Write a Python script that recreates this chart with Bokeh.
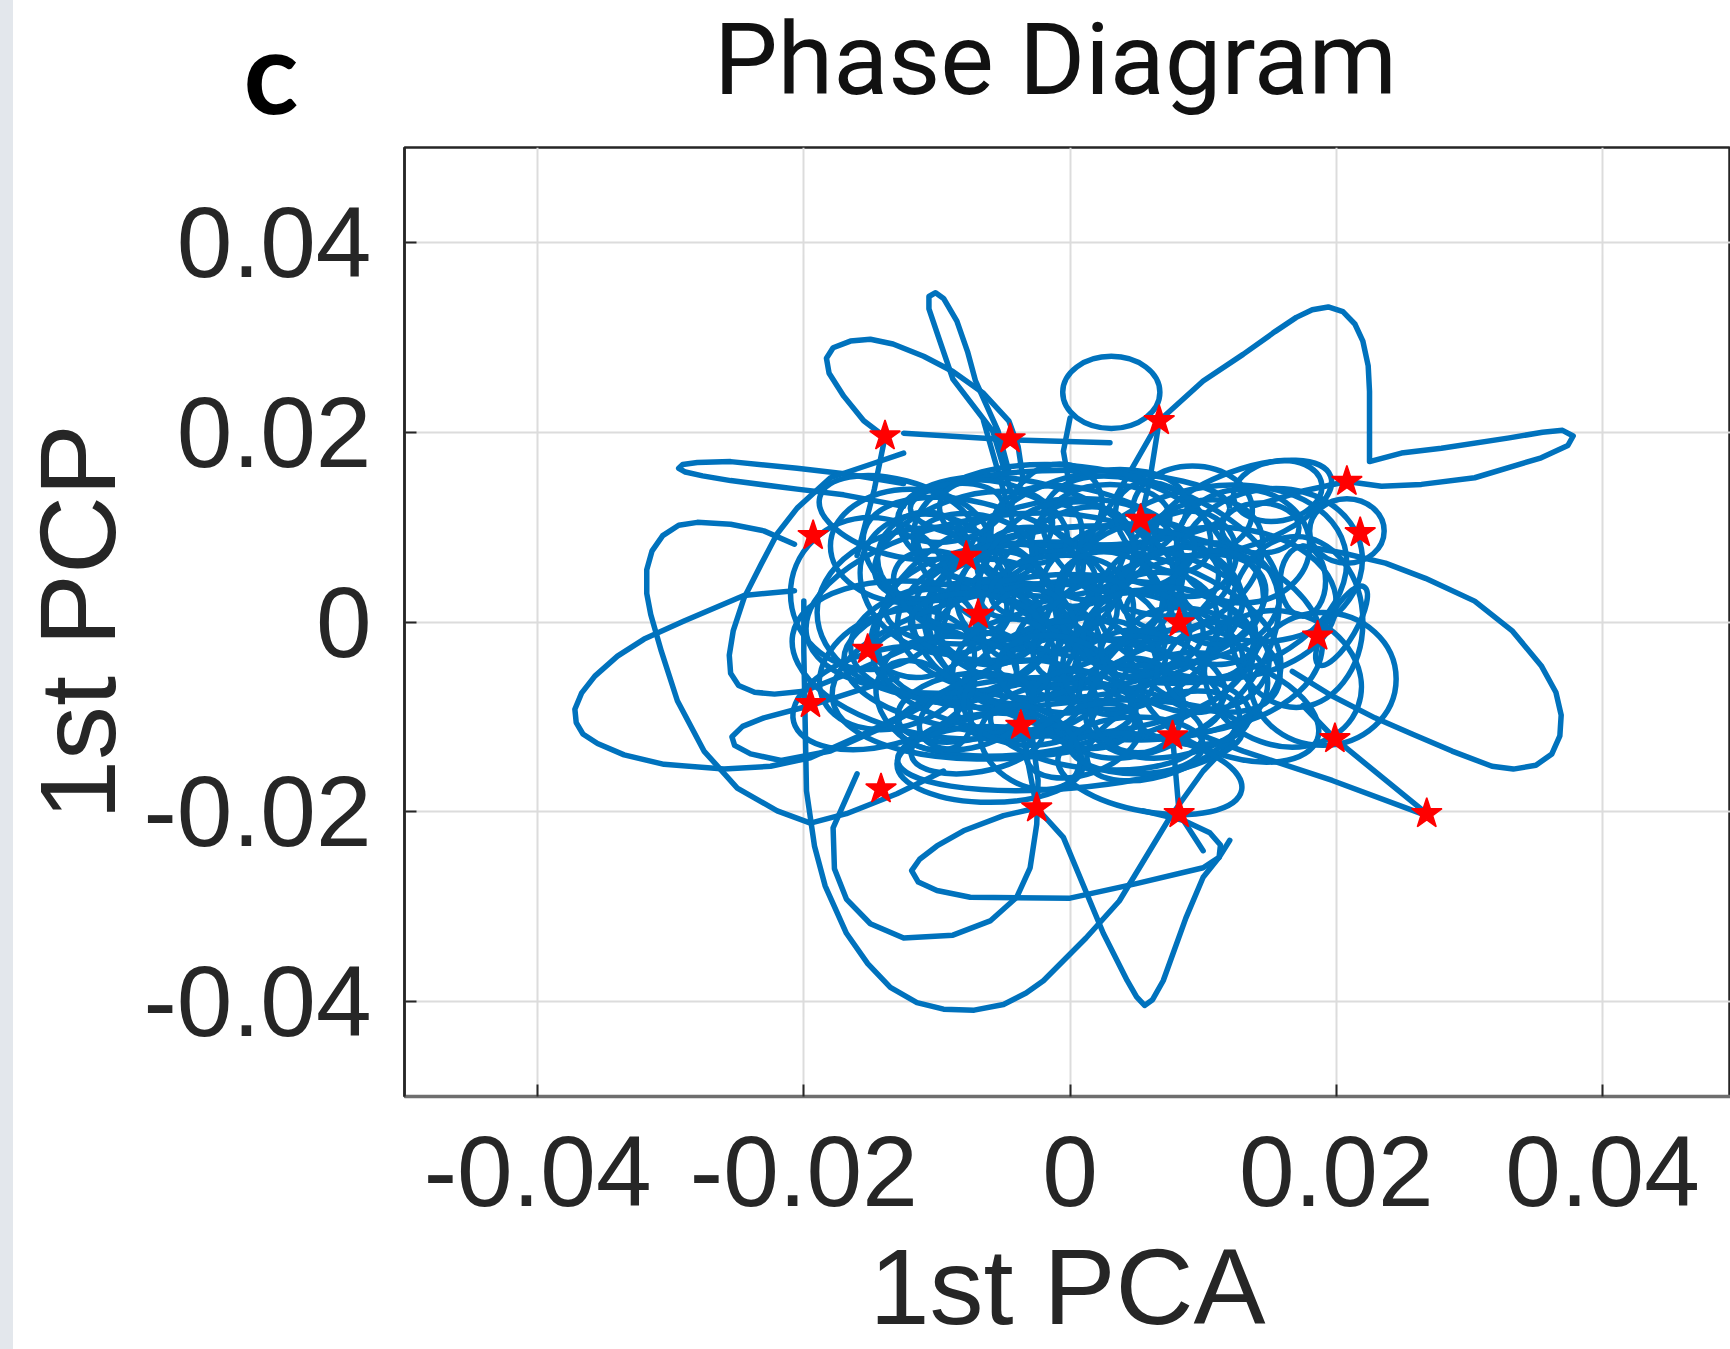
from bokeh.plotting import figure
from bokeh.models import Range1d, FixedTicker
from bokeh.layouts import row, column
from bokeh.models import Div
from bokeh.embed import file_html
from bokeh.resources import INLINE
from bokeh.core.properties import value

# ---------------- data ----------------
x_ticks = [-0.04, -0.02, 0, 0.02, 0.04]
x_tick_labels = ["-0.04", "-0.02", "0", "0.02", "0.04"]
y_ticks = [-0.04, -0.02, 0, 0.02, 0.04]
y_tick_labels = ["-0.04", "-0.02", "0", "0.02", "0.04"]

# red star markers
star_x = [-0.0139, -0.0045, 0.0067, 0.0208, 0.0053, 0.0218, -0.0193, -0.0078, -0.0069, 0.0082,
          0.0186, -0.0152, -0.0195, -0.0037, 0.0077, 0.0199, -0.0142, -0.0025, 0.0082, 0.0268]
star_y = [0.0196, 0.0193, 0.0212, 0.0148, 0.0108, 0.0094, 0.0091, 0.0069, 0.0008, -0.0001,
          -0.0015, -0.0029, -0.0086, -0.0109, -0.0120, -0.0123, -0.0176, -0.0196, -0.0202, -0.0202]

# trajectory pieces (open paths)
nw_loop_x = [-0.0139, -0.0155, -0.0170, -0.0181, -0.0183, -0.0178, -0.0165, -0.0150, -0.0133, -0.0110, -0.0088, -0.0065, -0.0046, -0.0039, -0.0035]
nw_loop_y = [0.0195, 0.0212, 0.0238, 0.0262, 0.0278, 0.0289, 0.0296, 0.0298, 0.0293, 0.0280, 0.0264, 0.0241, 0.0212, 0.0185, 0.0148]

top_petal_x = [-0.0045, -0.0058, -0.0088, -0.0099, -0.0106, -0.0106, -0.0101, -0.0095, -0.0085, -0.0077, -0.0071, -0.0054, -0.0046]
top_petal_y = [0.0140, 0.0201, 0.0256, 0.0301, 0.0330, 0.0343, 0.0347, 0.0341, 0.0317, 0.0285, 0.0254, 0.0201, 0.0159]

ne_loop_x = [0.0067, 0.0100, 0.0130, 0.0154, 0.0170, 0.0182, 0.0194, 0.0205, 0.0214, 0.0220, 0.0224, 0.0225, 0.0225, 0.0225,
             0.0249, 0.0279, 0.0330, 0.0355, 0.0370, 0.0378, 0.0374, 0.0354, 0.0304, 0.0264, 0.0234, 0.0208, 0.0175, 0.0137]
ne_loop_y = [0.0212, 0.0254, 0.0282, 0.0306, 0.0321, 0.0329, 0.0332, 0.0327, 0.0314, 0.0296, 0.0270, 0.0243, 0.0201, 0.0169,
             0.0178, 0.0183, 0.0194, 0.0200, 0.0202, 0.0196, 0.0186, 0.0173, 0.0152, 0.0145, 0.0143, 0.0148, 0.0138, 0.0122]

w_petal_x = [-0.0125, -0.0168, -0.0205, -0.0255, -0.0280, -0.0291, -0.0294, -0.0289, -0.0276, -0.0255, -0.0205, -0.0170, -0.0125]
w_petal_y = [0.0146, 0.0156, 0.0162, 0.0169, 0.0168, 0.0166, 0.0162, 0.0158, 0.0154, 0.0149, 0.0140, 0.0134, 0.0122]

c_loop_x = [-0.0125, -0.0148, -0.0180, -0.0205, -0.0220, -0.0232, -0.0245, -0.0253, -0.0256, -0.0255, -0.0249, -0.0237, -0.0222, -0.0200, -0.0155, -0.0110]
c_loop_y = [0.0178, 0.0167, 0.0152, 0.0120, 0.0093, 0.0061, 0.0025, -0.0009, -0.0035, -0.0054, -0.0067, -0.0074, -0.0076, -0.0073, -0.0048, -0.0020]

hook_x = [-0.0207, -0.0230, -0.0255, -0.0280, -0.0294, -0.0306, -0.0314, -0.0318, -0.0318, -0.0315, -0.0307, -0.0295, -0.0275, -0.0250, -0.0220, -0.0195, -0.0168, -0.0130, -0.0095]
hook_y = [0.0082, 0.0096, 0.0103, 0.0105, 0.0102, 0.0091, 0.0075, 0.0055, 0.0030, 0.0008, -0.0031, -0.0083, -0.0136, -0.0175, -0.0199, -0.0212, -0.0202, -0.0181, -0.0157]

w_oval_x = [-0.0207, -0.0245, -0.0290, -0.0320, -0.0340, -0.0357, -0.0367, -0.0372, -0.0371, -0.0366, -0.0355, -0.0335, -0.0305, -0.0260, -0.0225, -0.0195, -0.0155, -0.0130, -0.0095]
w_oval_y = [0.0033, 0.0028, 0.0001, -0.0018, -0.0036, -0.0057, -0.0075, -0.0092, -0.0106, -0.0118, -0.0128, -0.0140, -0.0150, -0.0155, -0.0152, -0.0143, -0.0118, -0.0101, -0.0073]

sw_oval_x = [-0.0130, -0.0168, -0.0195, -0.0230, -0.0246, -0.0254, -0.0252, -0.0240, -0.0217, -0.0180, -0.0142, -0.0103]
sw_oval_y = [-0.0059, -0.0076, -0.0088, -0.0101, -0.0110, -0.0121, -0.0130, -0.0139, -0.0146, -0.0136, -0.0112, -0.0083]

bottom_loop_x = [-0.0200, -0.0200, -0.0199, -0.0198, -0.0192, -0.0184, -0.0168, -0.0152, -0.0135, -0.0115, -0.0095, -0.0072, -0.0050, -0.0033, -0.0020, 0.0012, 0.0037, 0.0075, 0.0100, 0.0122]
bottom_loop_y = [0.0022, -0.0031, -0.0104, -0.0178, -0.0236, -0.0278, -0.0328, -0.0360, -0.0385, -0.0401, -0.0408, -0.0409, -0.0403, -0.0391, -0.0378, -0.0333, -0.0294, -0.0206, -0.0157, -0.0125]

u_loop_x = [-0.0160, -0.0178, -0.0177, -0.0168, -0.0150, -0.0125, -0.0088, -0.0060, -0.0040, -0.0030, -0.0025, -0.0024, -0.0028]
u_loop_y = [-0.0160, -0.0217, -0.0260, -0.0292, -0.0318, -0.0333, -0.0330, -0.0315, -0.0290, -0.0259, -0.0213, -0.0167, -0.0125]

s_oval_x = [-0.0025, -0.0050, -0.0080, -0.0100, -0.0113, -0.0119, -0.0114, -0.0100, -0.0075, 0.0000, 0.0049, 0.0100, 0.0112, 0.0113, 0.0105, 0.0085, 0.0055]
s_oval_y = [-0.0196, -0.0204, -0.0220, -0.0236, -0.0250, -0.0262, -0.0274, -0.0283, -0.0290, -0.0291, -0.0276, -0.0259, -0.0248, -0.0235, -0.0222, -0.0209, -0.0199]

v_x = [-0.0037, -0.0025, -0.0005, 0.0025, 0.0043, 0.0050, 0.0056, 0.0062, 0.0070, 0.0087, 0.0100, 0.0112, 0.0120]
v_y = [-0.0109, -0.0196, -0.0227, -0.0328, -0.0378, -0.0395, -0.0404, -0.0398, -0.0378, -0.0312, -0.0269, -0.0248, -0.0230]

e_loop_x = [0.0175, 0.0204, 0.0237, 0.0267, 0.0304, 0.0332, 0.0354, 0.0365, 0.0369, 0.0368, 0.0362, 0.0350, 0.0333, 0.0317, 0.0287, 0.0257, 0.0229, 0.0197, 0.0167]
e_loop_y = [0.0080, 0.0073, 0.0062, 0.0046, 0.0022, -0.0009, -0.0046, -0.0074, -0.0098, -0.0120, -0.0139, -0.0151, -0.0155, -0.0152, -0.0136, -0.0118, -0.0101, -0.0078, -0.0052]

link_a_x = [0.0077, 0.0082, 0.0100]
link_a_y = [-0.0120, -0.0202, -0.0241]
link_b_x = [0.0175, 0.0199, 0.0268]
link_b_y = [-0.0088, -0.0123, -0.0202]
link_c_x = [0.0100, 0.0130, 0.0197, 0.0268]
link_c_y = [-0.0120, -0.0136, -0.0167, -0.0204]
link_d_x = [-0.0125, -0.0046, 0.0030]
link_d_y = [0.0199, 0.0192, 0.0189]
link_e_x = [0.0067, 0.0034, 0.0010]
link_e_y = [0.0212, 0.0131, 0.0080]
link_f_x = [0.0067, 0.0060, 0.0053]
link_f_y = [0.0212, 0.0150, 0.0108]
link_g_x = [-0.0139, -0.0147, -0.0160]
link_g_y = [0.0195, 0.0140, 0.0070]
link_h_x = [-0.0065, -0.0045]
link_h_y = [0.0212, 0.0114]
link_i_x = [0.0000, -0.0005, 0.0000]
link_i_y = [0.0215, 0.0180, 0.0140]

# closed loops (centre, width, height, tilt in degrees)
loop_x = [0.0031, 0.0190, 0.0204, 0.0208, 0.0156, 0.0092, 0.0143, 0.0175,
          -0.008, -0.004, 0.001, 0.005, 0.009, -0.010, -0.006, -0.001, 0.004, 0.008,
          -0.009, -0.005, 0.000, 0.005, 0.010, -0.007, -0.002, 0.003, 0.008, -0.004,
          0.002, 0.007, -0.003, 0.002, -0.006, 0.003, -0.001, 0.006, -0.008, 0.000,
          0.002, -0.003, 0.004, -0.002, -0.006, 0.007, -0.010, 0.011, 0.000, 0.000,
          -0.012, 0.012, -0.013, 0.013, -0.006, 0.004, -0.002, 0.002, -0.010, 0.010,
          0.015, 0.016, 0.013, 0.017, -0.015, -0.014, -0.013, -0.006, 0.006]
loop_y = [0.0242, -0.0060, -0.0004, 0.0096, 0.0138, 0.0117, 0.0099, 0.0043,
          0.008, 0.009, 0.010, 0.008, 0.006, 0.004, 0.003, 0.004, 0.003, 0.001,
          -0.002, -0.001, -0.001, -0.002, -0.004, -0.006, -0.006, -0.007, -0.008, -0.010,
          -0.011, -0.012, 0.006, 0.006, 0.000, 0.000, -0.003, -0.005, -0.009, 0.001,
          -0.002, 0.002, 0.004, -0.004, 0.005, -0.003, 0.001, 0.002, 0.012, -0.013,
          0.008, -0.009, -0.005, 0.008, 0.002, -0.001, -0.005, 0.006, -0.004, 0.004,
          0.006, -0.006, 0.012, 0.000, 0.003, -0.008, 0.011, -0.015, -0.016]
loop_w = [0.0073, 0.0110, 0.0022, 0.0056, 0.0067, 0.0090, 0.0058, 0.0034,
          0.014, 0.018, 0.016, 0.015, 0.012, 0.012, 0.016, 0.014, 0.018, 0.014,
          0.015, 0.012, 0.020, 0.013, 0.012, 0.016, 0.014, 0.017, 0.014, 0.018,
          0.016, 0.012, 0.008, 0.009, 0.008, 0.009, 0.007, 0.008, 0.010, 0.026,
          0.028, 0.024, 0.022, 0.030, 0.020, 0.020, 0.018, 0.018, 0.024, 0.026,
          0.012, 0.014, 0.012, 0.010, 0.028, 0.030, 0.032, 0.028, 0.022, 0.022,
          0.014, 0.012, 0.014, 0.010, 0.012, 0.014, 0.012, 0.014, 0.014]
loop_h = [0.0076, 0.0140, 0.0095, 0.0068, 0.0063, 0.0095, 0.0053, 0.0074,
          0.010, 0.012, 0.011, 0.013, 0.012, 0.014, 0.010, 0.012, 0.010, 0.011,
          0.012, 0.014, 0.012, 0.013, 0.010, 0.010, 0.011, 0.010, 0.012, 0.008,
          0.009, 0.008, 0.008, 0.007, 0.009, 0.008, 0.009, 0.007, 0.007, 0.018,
          0.020, 0.020, 0.016, 0.016, 0.014, 0.018, 0.018, 0.016, 0.008, 0.009,
          0.012, 0.010, 0.012, 0.012, 0.018, 0.022, 0.018, 0.020, 0.016, 0.020,
          0.016, 0.014, 0.008, 0.018, 0.016, 0.010, 0.008, 0.008, 0.008]
loop_angle = [0, 0, -30, 0, 10, 0, 0, 0,
              20, -10, 15, -25, 35, -30, 10, 45, -5, 20,
              5, -40, 0, 30, -20, -15, 25, -10, 15, 5,
              -5, 20, 0, 30, 0, -30, 60, 0, 10, 5,
              -10, 20, -30, 0, -20, 40, 0, 0, 0, 5,
              0, -20, 20, 0, 10, -5, 8, -12, -10, 15,
              10, -20, 20, 0, 0, 15, -15, 0, -10]

# small loops packed in the dense core
core_x = [-0.009, -0.005, -0.001, 0.003, 0.007,
          -0.011, -0.007, -0.003, 0.001, 0.005, 0.009,
          -0.009, -0.005, -0.001, 0.003, 0.007, 0.011,
          -0.011, -0.007, -0.003, 0.001, 0.005, 0.009,
          -0.009, -0.005, -0.001, 0.003, 0.007, 0.011,
          -0.011, -0.007, -0.003, 0.001, 0.005, 0.009,
          -0.007, -0.003, 0.001, 0.005]
core_y = [0.0115, 0.0105, 0.0120, 0.0110, 0.0100,
          0.0070, 0.0078, 0.0065, 0.0075, 0.0068, 0.0072,
          0.0030, 0.0025, 0.0035, 0.0028, 0.0032, 0.0026,
          -0.0012, -0.0005, -0.0015, -0.0008, -0.0012, -0.0004,
          -0.0050, -0.0045, -0.0055, -0.0048, -0.0052, -0.0046,
          -0.0088, -0.0095, -0.0085, -0.0092, -0.0088, -0.0094,
          -0.0128, -0.0132, -0.0125, -0.0130]
core_w = [0.008, 0.010, 0.007, 0.009, 0.008,
          0.007, 0.009, 0.010, 0.008, 0.009, 0.007,
          0.009, 0.007, 0.010, 0.008, 0.009, 0.007,
          0.008, 0.010, 0.007, 0.009, 0.008, 0.010,
          0.010, 0.008, 0.009, 0.007, 0.010, 0.008,
          0.008, 0.009, 0.010, 0.008, 0.007, 0.009,
          0.010, 0.008, 0.009, 0.010]
core_h = [0.006, 0.008, 0.009, 0.007, 0.008,
          0.009, 0.007, 0.008, 0.010, 0.007, 0.009,
          0.008, 0.010, 0.007, 0.009, 0.008, 0.010,
          0.009, 0.007, 0.010, 0.008, 0.009, 0.007,
          0.007, 0.009, 0.008, 0.010, 0.007, 0.009,
          0.008, 0.007, 0.009, 0.008, 0.010, 0.007,
          0.006, 0.008, 0.007, 0.006]
core_angle = [10, -20, 35, 0, -40,
              25, -10, 50, -30, 15, 0,
              -25, 40, 5, -15, 30, -45,
              20, -5, -35, 45, 10, -20,
              0, 30, -10, 55, -25, 15,
              -40, 20, 0, -15, 35, -5,
              10, -30, 20, 0]

paths_x = [nw_loop_x, top_petal_x, ne_loop_x, w_petal_x, c_loop_x, hook_x, w_oval_x, sw_oval_x,
           bottom_loop_x, u_loop_x, s_oval_x, v_x, e_loop_x, link_a_x, link_b_x, link_c_x,
           link_d_x, link_e_x, link_f_x, link_g_x, link_h_x, link_i_x]
paths_y = [nw_loop_y, top_petal_y, ne_loop_y, w_petal_y, c_loop_y, hook_y, w_oval_y, sw_oval_y,
           bottom_loop_y, u_loop_y, s_oval_y, v_y, e_loop_y, link_a_y, link_b_y, link_c_y,
           link_d_y, link_e_y, link_f_y, link_g_y, link_h_y, link_i_y]

# ---------------- styling ----------------
BLUE = "#0072BD"
INK = "#262626"
LW = 5.5

# header strip: title drawn as text in its frame, panel letter as the left-axis label
head = figure(width=1717, height=145, x_range=Range1d(0, 1330), y_range=Range1d(145, 0),
              output_backend="svg", toolbar_location=None, x_axis_type=None,
              min_border_left=387, min_border_right=0, min_border_top=0, min_border_bottom=0)
head.title = None
head.outline_line_color = None
head.xgrid.visible = False
head.ygrid.visible = False
head.background_fill_color = "white"
head.border_fill_color = "white"
hy = head.yaxis[0]
hy.ticker = FixedTicker(ticks=[68])
hy.major_label_overrides = {68: "c"}
hy.major_tick_line_color = None
hy.minor_tick_line_color = None
hy.axis_line_color = None
hy.major_label_standoff = 100
hy.major_label_text_font = "Lato"
hy.major_label_text_font_style = "bold"
hy.major_label_text_font_size = "114px"
hy.major_label_text_color = "black"
head.text(x=[653], y=[59], text=["Phase Diagram"], text_font=value("Roboto"),
          text_font_size="101px", text_align="center", text_baseline="alphabetic", text_color="#111111")

p = figure(width=1717, height=1204,
           x_range=Range1d(-0.05, 0.04962), y_range=Range1d(-0.05, 0.05),
           output_backend="svg", toolbar_location=None,
           min_border_left=387, min_border_right=0, min_border_top=2, min_border_bottom=253,
           x_axis_label="1st PCA", y_axis_label="1st PCP")
p.background_fill_color = "white"
p.border_fill_color = "white"
p.outline_line_color = INK
p.outline_line_width = 2.5

for ax, ticks, labels in ((p.xaxis[0], x_ticks, x_tick_labels), (p.yaxis[0], y_ticks, y_tick_labels)):
    ax.ticker = FixedTicker(ticks=ticks)
    ax.major_label_overrides = {t: l for t, l in zip(ticks, labels)}
    ax.major_tick_in = 12
    ax.major_tick_out = 0
    ax.major_tick_line_color = INK
    ax.major_tick_line_width = 2
    ax.minor_tick_line_color = None
    ax.axis_line_color = INK
    ax.axis_line_width = 2.5
    ax.major_label_text_font = "Liberation Sans"
    ax.major_label_text_font_size = "100px"
    ax.major_label_text_color = INK
    ax.axis_label_text_font = "Liberation Sans"
    ax.axis_label_text_font_size = "108px"
    ax.axis_label_text_font_style = "normal"
    ax.axis_label_text_color = INK

p.xaxis[0].major_label_standoff = 40
p.xaxis[0].axis_label_standoff = 17
p.yaxis[0].major_label_standoff = 33
p.yaxis[0].axis_label_standoff = 3
p.xaxis[0].axis_line_color = "#6e6e6e"
p.xaxis[0].axis_line_width = 3.5

for g in (p.xgrid[0], p.ygrid[0]):
    g.ticker = FixedTicker(ticks=x_ticks)
    g.grid_line_color = "#dcdcdc"
    g.grid_line_width = 2

p.multi_line(xs=paths_x, ys=paths_y, line_color=BLUE, line_width=LW, line_join="round", line_cap="round")
p.ellipse(x=loop_x, y=loop_y, width=loop_w, height=loop_h, angle=loop_angle, angle_units="deg",
          fill_color=None, line_color=BLUE, line_width=LW)
p.ellipse(x=core_x, y=core_y, width=core_w, height=core_h, angle=core_angle, angle_units="deg",
          fill_color=None, line_color=BLUE, line_width=LW)
p.scatter(x=star_x, y=star_y, marker="star", size=32, fill_color="#ff0000", line_color="#ff0000", line_width=1.5)

strip = Div(width=13, height=1349, margin=0, styles={"background-color": "#e3e7ec"})
layout = row(strip, column(head, p, spacing=0), spacing=0)

open("out.html", "w").write(file_html(layout, INLINE))
